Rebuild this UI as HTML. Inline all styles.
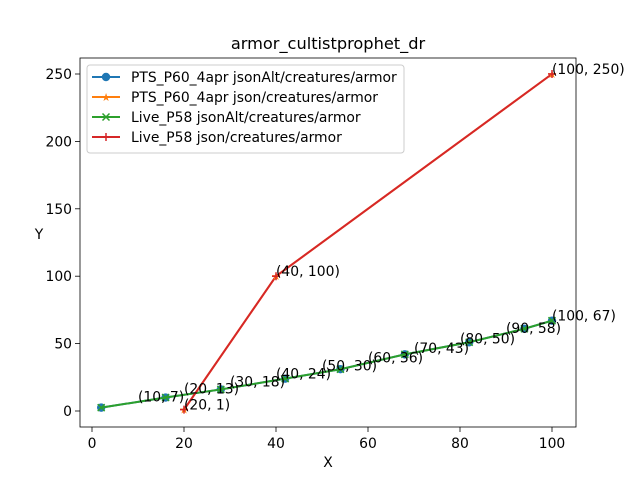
<!DOCTYPE html>
<html><head><meta charset="utf-8"><style>body{margin:0;background:#fff}svg{font-family:"DejaVu Sans","Liberation Sans",sans-serif}</style></head>
<body>
<svg id="c" width="640" height="480">
<rect width="640" height="480" fill="#fff"/>
<text x="328" y="49" font-size="16.2" text-anchor="middle">armor_cultistprophet_dr</text>
<g id="plot"></g>
</svg>
<script>
const liveX=[2,16,28,42,54,68,82,94,100];
const liveY=[2.5,10,16,24,31,42,51,61,67];
const ptsX=[20,40,100];
const ptsY=[1,100,250];
const annX=[10,20,30,40,50,60,70,80,90,100,20,40,100];
const annY=[7,13,18,24,30,36,43,50,58,67,1,100,250];
const xTicks=[0,20,40,60,80,100];
const yTicks=[0,50,100,150,200,250];
const L=80,R=576,T=58,B=427;
const FS=13.9;
const sx=v=>92+v*4.6, sy=v=>411-v*1.348;
const NS="http://www.w3.org/2000/svg";
const g=document.getElementById('plot');
function el(t,a,p){const e=document.createElementNS(NS,t);for(const k in a)e.setAttribute(k,a[k]);(p||g).appendChild(e);return e;}
xTicks.forEach(v=>{const x=sx(v);
const t=el('line',{x1:x,x2:x,y1:B,y2:B+5,stroke:'#000','stroke-width':0.8});


const l=el('text',{x:x,y:B+21,'font-size':FS,'text-anchor':'middle'});l.textContent=v;

});
yTicks.forEach(v=>{const y=sy(v);
const t=el('line',{x1:L-5,x2:L,y1:y,y2:y,stroke:'#000','stroke-width':0.8});


const l=el('text',{x:L-8,y:y+5,'font-size':FS,'text-anchor':'end'});l.textContent=v;

});
const xt=el('text',{x:328,y:467,'font-size':FS,'text-anchor':'middle'});xt.textContent='X';


const yt=el('text',{x:39,y:239,'font-size':FS,'text-anchor':'middle'});yt.textContent='Y';


function pts(xs,ys){return xs.map((x,i)=>sx(x)+','+sy(ys[i])).join(' ');}
const l1=el('polyline',{points:pts(liveX,liveY),fill:'none',stroke:'#1f77b4','stroke-width':2});


liveX.forEach((x,i)=>{const c=el('circle',{cx:sx(x),cy:sy(liveY[i]),r:4.2,fill:'#1f77b4'});

});
const l2=el('polyline',{points:pts(ptsX,ptsY),fill:'none',stroke:'#ff7f0e','stroke-width':2});


const l3=el('polyline',{points:pts(liveX,liveY),fill:'none',stroke:'#2ca02c','stroke-width':2});


liveX.forEach((x,i)=>{const X=sx(x),Y=sy(liveY[i]);const m=el('path',{d:`M${X-3.5},${Y-3.5}L${X+3.5},${Y+3.5}M${X-3.5},${Y+3.5}L${X+3.5},${Y-3.5}`,stroke:'#2ca02c','stroke-width':1.5});

});
const l4=el('polyline',{points:pts(ptsX,ptsY),fill:'none',stroke:'#d62728','stroke-width':2});


ptsX.forEach((x,i)=>{const X=sx(x),Y=sy(ptsY[i]);
const s=el('text',{x:X,y:Y+4,'font-size':11,'text-anchor':'middle',fill:'#ff7f0e'});s.textContent='★';


const m=el('path',{d:`M${X-4},${Y}L${X+4},${Y}M${X},${Y-4}L${X},${Y+4}`,stroke:'#d62728','stroke-width':1.5});

});
annX.forEach((x,i)=>{const a=el('text',{x:sx(x),y:sy(annY[i]),'font-size':FS});a.textContent='('+x+', '+annY[i]+')';

});
const fr=el('rect',{x:L,y:T,width:R-L,height:B-T,fill:'none',stroke:'#000','stroke-width':0.8});


const lg=el('g',{});


el('rect',{x:87,y:65,width:317,height:88,rx:3,fill:'#fff','fill-opacity':0.8,stroke:'#ccc'},lg);
const names=['PTS_P60_4apr jsonAlt/creatures/armor','PTS_P60_4apr json/creatures/armor','Live_P58 jsonAlt/creatures/armor','Live_P58 json/creatures/armor'];
const cols=['#1f77b4','#ff7f0e','#2ca02c','#d62728'];
names.forEach((n,i)=>{const y=77+i*20;
const e=el('g',{},lg);


el('line',{x1:92,x2:120,y1:y,y2:y,stroke:cols[i],'stroke-width':2},e);
if(i==0)el('circle',{cx:106,cy:y,r:4.2,fill:cols[i]},e);
if(i==1){const s=el('text',{x:106,y:y+4,'font-size':11,'text-anchor':'middle',fill:cols[i]},e);s.textContent='★';}
if(i==2)el('path',{d:`M102.5,${y-3.5}L109.5,${y+3.5}M102.5,${y+3.5}L109.5,${y-3.5}`,stroke:cols[i],'stroke-width':1.5},e);
if(i==3)el('path',{d:`M102,${y}L110,${y}M106,${y-4}L106,${y+4}`,stroke:cols[i],'stroke-width':1.5},e);
const t=el('text',{x:131,y:y+5,'font-size':FS},e);t.textContent=n;});
</script>
</body></html>
